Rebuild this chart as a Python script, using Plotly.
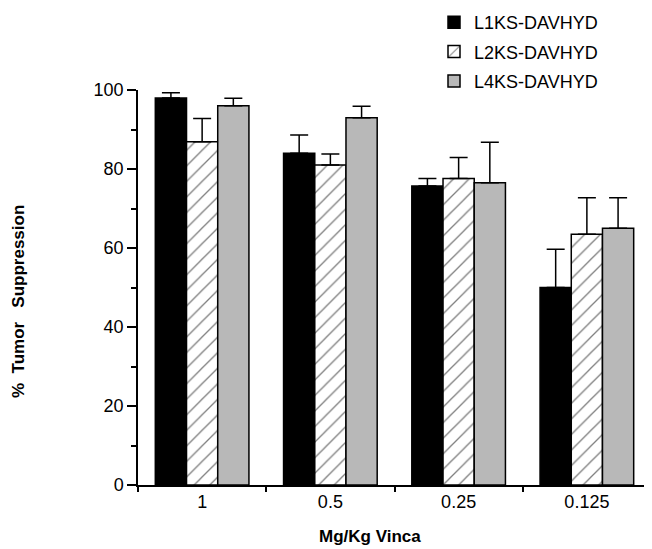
import plotly.graph_objects as go

categories = ["1", "0.5", "0.25", "0.125"]
series_names = ["L1KS-DAVHYD", "L2KS-DAVHYD", "L4KS-DAVHYD"]
l1_values = [98.0, 84.0, 75.7, 50.0]
l2_values = [86.9, 81.0, 77.6, 63.5]
l4_values = [96.0, 93.0, 76.5, 65.0]
l1_err_top = [99.3, 88.6, 77.6, 59.7]
l2_err_top = [92.8, 83.8, 82.9, 72.7]
l4_err_top = [97.9, 95.9, 86.8, 72.7]
y_ticks = [0, 20, 40, 60, 80, 100]

FONT = "Liberation Sans, Arial, Helvetica, sans-serif"

styles = [
    dict(color="black", pattern=None),
    dict(color="white", pattern=dict(shape="/", fgcolor="black", bgcolor="white", size=11, solidity=0.12)),
    dict(color="#b8b8b8", pattern=dict(shape=".", fgcolor="#555555", bgcolor="#d4d4d4", size=2, solidity=0.5)),
]

fig = go.Figure()
for i, (name, vals, tops) in enumerate(zip(series_names,
                                            [l1_values, l2_values, l4_values],
                                            [l1_err_top, l2_err_top, l4_err_top])):
    marker = dict(color=styles[i]["color"], line=dict(color="black", width=1.5))
    if styles[i]["pattern"]:
        marker["pattern"] = styles[i]["pattern"]
    fig.add_trace(go.Bar(
        x=categories, y=vals, name=name, legendgroup=name,
        marker=marker,
        error_y=dict(type="data", symmetric=False,
                     array=[t - v for t, v in zip(tops, vals)],
                     arrayminus=[0] * len(vals),
                     color="black", thickness=1.5, width=9),
    ))

# the page body adds an 8px offset; the figure is sized to fill the rest
OFF = 8
W, H = 652 - OFF, 549 - OFF
L, R, T, B = 138 - OFF, 1, 90 - OFF, 64
plot_w = W - L - R
plot_h = H - T - B

def px_x(px):  # page pixel -> paper x
    return (px - 138) / plot_w

def px_y(py):  # page pixel -> paper y
    return (485 - py) / plot_h

fig.update_layout(
    width=W, height=H,
    margin=dict(l=L, r=R, t=T, b=B, autoexpand=False),
    plot_bgcolor="white", paper_bgcolor="white",
    barmode="group", bargap=0.27, bargroupgap=0,
    font=dict(family=FONT, color="black"),
    showlegend=True,
    legend=dict(x=px_x(434), y=px_y(4), xanchor="left", yanchor="top",
                font=dict(size=18, family=FONT), tracegroupgap=3,
                bgcolor="rgba(0,0,0,0)"),
    xaxis=dict(showline=True, linecolor="black", linewidth=1.5,
               ticks="outside", tickson="boundaries", ticklen=5, tickwidth=1.5,
               tickcolor="black", tickfont=dict(size=18), showgrid=False,
               zeroline=False),
    yaxis=dict(range=[0, 100], tickvals=y_ticks, showline=True, linecolor="black",
               linewidth=1.5, ticks="outside", ticklen=9, tickwidth=1.5,
               tickcolor="black", tickfont=dict(size=18), showgrid=False,
               zeroline=False,
               minor=dict(dtick=10, ticks="outside", ticklen=5, tickwidth=1.5,
                          tickcolor="black", showgrid=False)),
    annotations=[
        dict(text="<b>%  Tumor   Suppression</b>",
             x=px_x(18), y=px_y(302),
             xref="paper", yref="paper", xanchor="center", yanchor="middle",
             showarrow=False, textangle=-90, font=dict(size=17)),
        dict(text="<b>Mg/Kg Vinca</b>",
             x=px_x(370), y=px_y(536),
             xref="paper", yref="paper", xanchor="center", yanchor="middle",
             showarrow=False, font=dict(size=17)),
    ],
)

fig.write_html("out.html")
